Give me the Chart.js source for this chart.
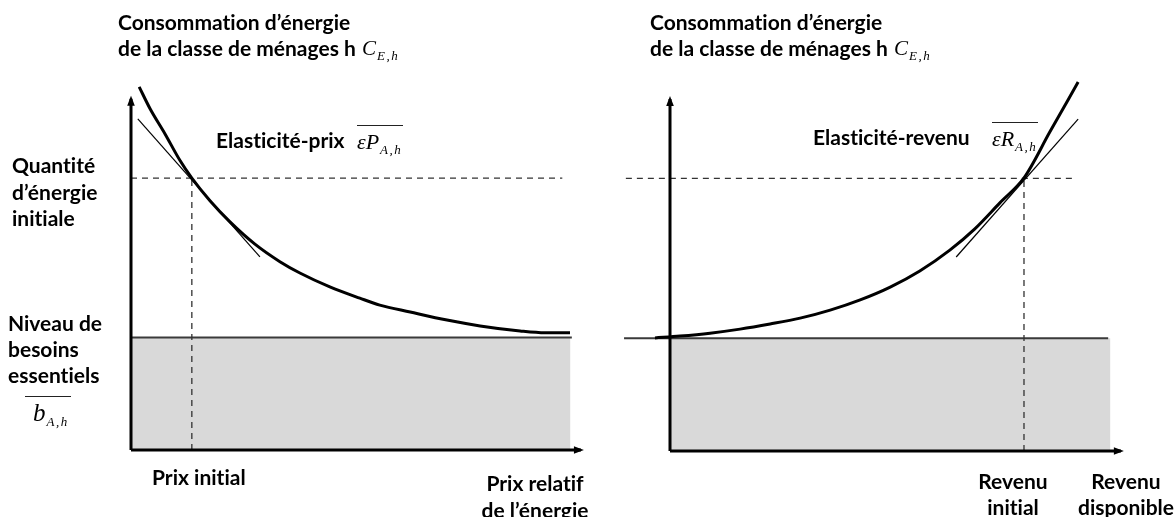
<!DOCTYPE html>
<html><head><meta charset="utf-8">
<script src="https://cdn.jsdelivr.net/npm/chart.js@4.4.1/dist/chart.umd.min.js"></script>
<style>
html,body{margin:0;padding:0;background:#fff;}
#wrap{position:relative;width:1176px;height:517px;overflow:hidden;background:#fff;}
canvas{position:absolute;top:0;}
#c1{left:0;} #c2{left:580px;}
.lbl{position:absolute;font-family:Lato,"Open Sans",sans-serif;font-weight:700;font-size:21px;line-height:26px;color:#000;white-space:nowrap;font-variant-ligatures:none;font-feature-settings:"liga" 0,"clig" 0;}
.c{text-align:center;}
.m{position:absolute;font-family:"Liberation Serif","DejaVu Serif",serif;font-style:italic;font-size:22px;color:#000;white-space:nowrap;line-height:1;}
.m sub{font-size:13px;vertical-align:-5px;margin-left:1px;letter-spacing:1.5px;}
.ov{border-top:1.3px solid #222;padding-top:5px;padding-right:1px;}
</style></head>
<body><div id="wrap">
<canvas id="c1" width="600" height="517"></canvas>
<canvas id="c2" width="596" height="517"></canvas>

<div class="lbl" style="left:118px;top:9px">Consommation d’énergie<br>de la classe de ménages h</div>
<div class="m" style="left:362px;top:38px;font-size:21px">C<sub>E,h</sub></div>
<div class="lbl" style="left:650px;top:9px">Consommation d’énergie<br>de la classe de ménages h</div>
<div class="m" style="left:894px;top:38px;font-size:21px">C<sub>E,h</sub></div>

<div class="lbl" style="left:216px;top:127px">Elasticité-prix</div>
<div class="m ov" style="left:357px;top:125px">εP<sub>A,h</sub></div>
<div class="lbl" style="left:813px;top:124px">Elasticité-revenu</div>
<div class="m ov" style="left:992px;top:122px">εR<sub>A,h</sub></div>

<div class="lbl" style="left:12px;top:152px;line-height:26.5px">Quantité<br>d’énergie<br>initiale</div>
<div class="lbl" style="left:8px;top:310px">Niveau de<br>besoins<br>essentiels</div>
<div class="m ov" style="left:25px;top:396px;font-size:25px;padding-left:8px;padding-top:3px;padding-right:2px">b<sub>A,h</sub></div>

<div class="lbl" style="left:152px;top:464px">Prix initial</div>
<div class="lbl c" style="left:465px;top:469px;width:140px;line-height:27px">Prix relatif<br>de l’énergie</div>
<div class="lbl c" style="left:953px;top:468px;width:120px">Revenu<br>initial</div>
<div class="lbl c" style="left:1066px;top:468px;width:120px">Revenu<br>disponible</div>
</div>
<script>
// ---- data (diagram units, 0..100 on both axes) ----
const priceX  = [1.8, 4.2, 7.5, 10.8, 13.4, 17.4, 21.8, 27.3, 32.8, 37.2, 43.8, 50.4, 54.8, 61.5, 69.6, 76.9, 85.7, 91.2, 96.7];
const priceY  = [99.5, 93.5, 86.6, 79.3, 74.5, 68.3, 62.5, 56.4, 51.6, 48.5, 44.7, 41.6, 39.7, 37.8, 35.6, 34.0, 32.6, 32.1, 32.1];
const incomeX = [-3.3, 2.2, 8.8, 15.4, 22.0, 28.6, 35.2, 41.8, 48.4, 54.9, 61.5, 67.0, 72.5, 77.8, 83.5, 89.7];
const incomeY = [30.9, 31.4, 32.2, 33.3, 34.7, 36.3, 38.5, 41.3, 44.8, 49.2, 54.9, 60.7, 67.8, 74.6, 87.2, 100.8];
const priceTangentX  = [1.5, 28.4];
const priceTangentY  = [90.7, 52.9];
const incomeTangentX = [62.9, 89.7];
const incomeTangentY = [53.0, 90.7];
const initialQuantity = 74.5;
const initialPrice = 13.4;
const initialIncome = 77.8;
const essentialNeeds = 30.8;
const priceDashedX  = [0, 95];
const incomeDashedX = [-9.7, 89.2];
const priceNeedsX   = [0, 97.1];
const incomeNeedsX  = [-10.1, 96.3];
const boxX   = [0, 96.8];
const axisX  = [0, 99.1];
const axisY  = [0, 96.2];

const pts = (xs, ys) => xs.map((x, i) => ({x, y: ys[i]}));

const arrowPlugin = {
  id: 'arrows',
  afterDatasetsDraw(chart) {
    const ctx = chart.ctx;
    chart.data.datasets.forEach((ds, i) => {
      if (!ds.arrow) return;
      const p = chart.getDatasetMeta(i).data;
      const a = p[p.length - 2], b = p[p.length - 1];
      const ang = Math.atan2(b.y - a.y, b.x - a.x);
      const L = 10, W = 3.8, ext = 3;
      const c = Math.cos(ang), s = Math.sin(ang);
      const tx = b.x + c * ext, ty = b.y + s * ext;
      ctx.save();
      ctx.fillStyle = '#000';
      ctx.beginPath();
      ctx.moveTo(tx, ty);
      ctx.lineTo(tx - L * c + W * s, ty - L * s - W * c);
      ctx.lineTo(tx - L * c - W * s, ty - L * s + W * c);
      ctx.closePath();
      ctx.fill();
      ctx.restore();
    });
  }
};

function line(data, extra) {
  return Object.assign({
    data, borderColor: '#000', borderWidth: 1, pointRadius: 0, fill: false,
    clip: false, tension: 0
  }, extra);
}

function build(id, padding, curveX, curveY, tanX, tanY, initX, dashedX, needsX) {
  const datasets = [
    line(pts(boxX, [essentialNeeds, essentialNeeds]), {borderWidth: 0, fill: 'origin', backgroundColor: '#d9d9d9', order: 10}),
    line(pts(needsX, [essentialNeeds, essentialNeeds]), {borderColor: '#3a3a3a', borderWidth: 2, order: 9}),
    line(pts(dashedX, [initialQuantity, initialQuantity]), {borderColor: '#333', borderWidth: 1.3, borderDash: [6, 5], order: 8}),
    line(pts([initX, initX], [0, initialQuantity]), {borderColor: '#333', borderWidth: 1.3, borderDash: [6, 5], order: 8}),
    line(pts(tanX, tanY), {borderWidth: 1.2, order: 5}),
    line(pts(curveX, curveY), {borderWidth: 3, cubicInterpolationMode: 'monotone', order: 4}),
    line(pts([0, 0], axisY), {borderWidth: 3, arrow: true, order: 2}),
    line(pts(axisX, [0, 0]), {borderWidth: 3, arrow: true, order: 2})
  ];
  return new Chart(document.getElementById(id), {
    type: 'line',
    data: {datasets},
    options: {
      responsive: false, maintainAspectRatio: false, animation: false,
      layout: {padding},
      scales: {
        x: {type: 'linear', min: 0, max: 100, display: false},
        y: {type: 'linear', min: 0, max: 100, display: false}
      },
      plugins: {legend: {display: false}, tooltip: {enabled: false}, title: {display: false}}
    },
    plugins: [arrowPlugin]
  });
}

build('c1', {left: 131, right: 15, top: 85, bottom: 67},
      priceX, priceY, priceTangentX, priceTangentY, initialPrice, priceDashedX, priceNeedsX);
build('c2', {left: 90, right: 51, top: 85, bottom: 66},
      incomeX, incomeY, incomeTangentX, incomeTangentY, initialIncome, incomeDashedX, incomeNeedsX);
</script>
</body></html>
